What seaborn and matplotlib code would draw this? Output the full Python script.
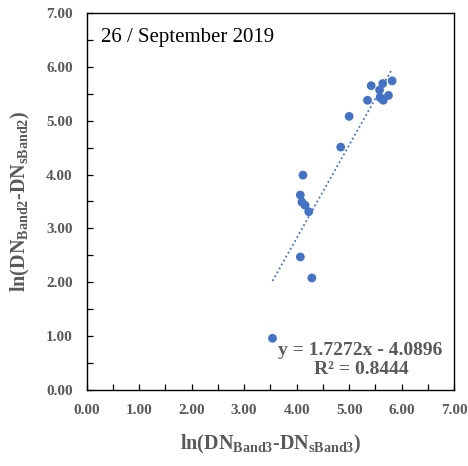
import numpy as np
import pandas as pd
import matplotlib
matplotlib.use("Agg")
import matplotlib.pyplot as plt
from matplotlib.ticker import MultipleLocator, FormatStrFormatter
import seaborn as sns

# Data
x_vals = [3.54, 4.29, 4.07, 4.23, 4.16, 4.10, 4.07, 4.12, 4.84, 5.00,
          5.35, 5.42, 5.58, 5.64, 5.82, 5.59, 5.65, 5.75, 5.62]
y_vals = [0.96, 2.08, 2.47, 3.31, 3.43, 3.49, 3.62, 3.99, 4.51, 5.08,
          5.38, 5.65, 5.57, 5.69, 5.74, 5.43, 5.38, 5.47, 5.41]
slope = 1.7272
intercept = -4.0896
r2 = 0.8444
date_label = "26 / September 2019"

sns.set_theme(style="white")
plt.rcParams['font.family'] = ['Liberation Serif', 'DejaVu Serif']
plt.rcParams['mathtext.fontset'] = 'custom'
plt.rcParams['mathtext.rm'] = 'Liberation Serif:bold'
plt.rcParams['mathtext.bf'] = 'Liberation Serif:bold'
plt.rcParams['mathtext.it'] = 'Liberation Serif:bold'
plt.rcParams['mathtext.default'] = 'bf'

df = pd.DataFrame({"x": x_vals, "y": y_vals})

fig = plt.figure(figsize=(4.68, 4.66), dpi=100)
ax = fig.add_axes([0.1853, 0.1631, 0.785, 0.809])

blue = "#4472C4"
gray = "#595959"

# trend line
xs = np.array([min(x_vals), max(x_vals)])
ax.plot(xs, slope * xs + intercept, linestyle=(0, (1, 1.5)), color=blue, linewidth=1.3, zorder=2)

sns.scatterplot(data=df, x="x", y="y", ax=ax, color=blue, s=40, edgecolor="none", zorder=3)

ax.set_xlim(0, 7)
ax.set_ylim(0, 7)
ax.xaxis.set_major_locator(MultipleLocator(1))
ax.yaxis.set_major_locator(MultipleLocator(1))
ax.xaxis.set_minor_locator(MultipleLocator(0.5))
ax.yaxis.set_minor_locator(MultipleLocator(0.5))
ax.xaxis.set_major_formatter(FormatStrFormatter('%.2f'))
ax.yaxis.set_major_formatter(FormatStrFormatter('%.2f'))
ax.tick_params(axis='both', which='both', direction='in', length=4, width=0.9,
               color='black', bottom=True, left=True, top=False, right=False)
ax.tick_params(axis='x', which='major', pad=10, labelsize=11, labelcolor=gray)
ax.tick_params(axis='y', which='major', pad=10, labelsize=11, labelcolor=gray)
for lab in ax.get_xticklabels() + ax.get_yticklabels():
    lab.set_fontweight('bold')

for sp in ax.spines.values():
    sp.set_color('black')
    sp.set_linewidth(1.0)

ax.set_xlabel(r"ln(DN$_{Band3}$-DN$_{sBand3}$)", fontsize=14.5, fontweight='bold', color=gray)
ax.set_ylabel(r"ln(DN$_{Band2}$-DN$_{sBand2}$)", fontsize=14.5, fontweight='bold', color=gray)
ax.xaxis.set_label_coords(0.5, -0.115)
ax.yaxis.set_label_coords(-0.15, 0.5)

ax.text(0.04, 0.935, date_label, transform=ax.transAxes, fontsize=15,
        color='black', ha='left', va='center')
ax.text(0.745, 0.106, f"y = {slope:.4f}x - {abs(intercept):.4f}", transform=ax.transAxes,
        fontsize=14, fontweight='bold', color=gray, ha='center', va='center')
ax.text(0.748, 0.054, f"R² = {r2:.4f}", transform=ax.transAxes,
        fontsize=14, fontweight='bold', color=gray, ha='center', va='center')

fig.savefig("out.png", dpi=100, facecolor='white')
